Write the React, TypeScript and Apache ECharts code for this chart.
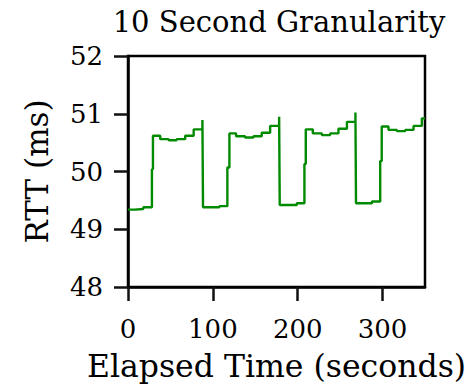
import React, { useEffect, useRef } from "react";
import * as echarts from "echarts";

const times = [
  0, 8, 18, 28.2, 29.4, 38, 48, 57.3, 67.4, 77.4, 87.7, 88.4, 98, 107.7, 117.1, 119.5,
  127.4, 138, 147.8, 157.6, 167.5, 178.1, 178.8, 189, 198.9, 207.9, 209.5, 217.8, 228.5,
  238.3, 248, 258, 268, 268.7, 278, 287.5, 297.2, 299, 307, 316.8, 326.7, 336.5, 346.3, 350,
];
const rtt = [
  49.34, 49.35, 49.38, 50.04, 50.62, 50.56, 50.54, 50.56, 50.62, 50.73, 50.89, 49.38, 49.38,
  49.4, 50.07, 50.66, 50.61, 50.59, 50.61, 50.67, 50.79, 50.95, 49.42, 49.42, 49.45, 50.13,
  50.73, 50.66, 50.63, 50.66, 50.74, 50.86, 51.02, 49.45, 49.45, 49.48, 50.18, 50.78, 50.72,
  50.7, 50.72, 50.79, 50.92, 50.92,
];
const xTicks = [0, 100, 200, 300];
const title = "10 Second Granularity";
const xName = "Elapsed Time (seconds)";
const yName = "RTT (ms)";

const FONT = "DejaVu Serif";
const TICK = 14;

export default function App() {
  const ref = useRef<HTMLDivElement>(null);
  useEffect(() => {
    if (!ref.current) return;
    const chart = echarts.init(ref.current, undefined, { renderer: "svg" });
    chart.setOption({
      animation: false,
      backgroundColor: "#ffffff",
      title: {
        text: title,
        left: 274,
        textAlign: "center",
        top: 2,
        textStyle: { fontFamily: FONT, fontWeight: "normal", fontSize: 29, color: "#000" },
      },
      grid: {
        left: 128,
        right: 40,
        top: 56,
        bottom: 100,
        show: true,
        borderColor: "#000",
        borderWidth: 2.5,
        backgroundColor: "transparent",
        outerBoundsMode: "none",
        containLabel: false,
      },
      xAxis: {
        type: "value",
        min: 0,
        max: 350,
        interval: 100,
        name: xName,
        nameLocation: "middle",
        nameGap: 63,
        nameTextStyle: { fontFamily: FONT, fontSize: 31.5, color: "#000" },
        axisLine: { show: true, onZero: false, lineStyle: { color: "#000", width: 2.5 } },
        axisTick: { show: true, inside: false, length: TICK, lineStyle: { color: "#111", width: 2.5 } },
        axisLabel: {
          fontFamily: FONT,
          fontSize: 26,
          color: "#000",
          margin: 29,
          showMaxLabel: false,
          formatter: (v: number) => (xTicks.includes(v) ? String(v) : ""),
        },
        splitLine: { show: false },
      },
      yAxis: {
        type: "value",
        min: 48,
        max: 52,
        interval: 1,
        name: yName,
        nameLocation: "middle",
        nameGap: 76,
        nameTextStyle: { fontFamily: FONT, fontSize: 31, color: "#000" },
        axisLine: { show: true, onZero: false, lineStyle: { color: "#000", width: 2.5 } },
        axisTick: { show: true, inside: false, length: TICK, lineStyle: { color: "#111", width: 2.5 } },
        axisLabel: { fontFamily: FONT, fontSize: 26, color: "#000", margin: 25 },
        splitLine: { show: false },
      },
      series: [
        {
          type: "line",
          step: "end",
          data: times.map((t, i) => [t, rtt[i]]),
          showSymbol: false,
          symbol: "none",
          lineStyle: { color: "#008a00", width: 2.4 },
          clip: true,
          z: 3,
        },
      ],
    });
    return () => chart.dispose();
  }, []);
  return <div ref={ref} style={{ width: 465, height: 387, position: "absolute", left: 0, top: 0 }} />;
}
